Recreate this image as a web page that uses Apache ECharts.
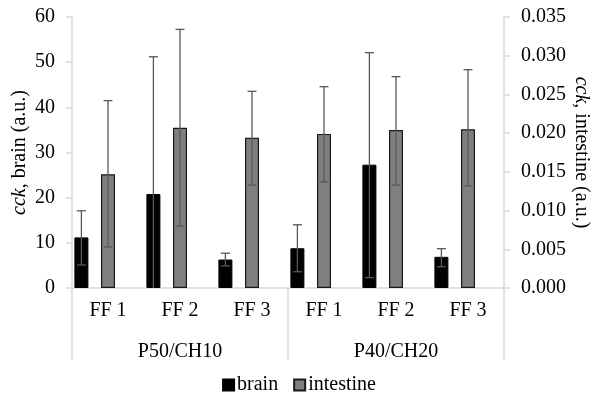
<!doctype html>
<html>
    <head>
        <meta charset="utf-8">
        <title>cck brain / intestine</title>
        <style>
            html, body { margin: 0; padding: 0; background: #fff; }
            #main { width: 598px; height: 403px; }
        </style>
    </head>
    <body>
        <div id="main"></div>
        <script src="https://cdn.jsdelivr.net/npm/echarts@6/dist/echarts.min.js"></script>
        <script>
            var categories = ['FF 1', 'FF 2', 'FF 3', 'FF 1', 'FF 2', 'FF 3'];
            var groups = ['P50/CH10', 'P40/CH20'];

            // brain, left axis
            var brain = [11.2, 20.8, 6.3, 8.8, 27.3, 6.9];
            var brainLow = [5.1, 0, 4.9, 3.6, 2.3, 4.7];
            var brainHigh = [17.1, 51.2, 7.7, 14.0, 52.1, 8.7];

            // intestine, right axis
            var intestine = [0.0147, 0.0207, 0.0194, 0.0199, 0.0204, 0.0205];
            var intestineLow = [0.0053, 0.0080, 0.0133, 0.0137, 0.0133, 0.0132];
            var intestineHigh = [0.0242, 0.0334, 0.0254, 0.0260, 0.0273, 0.0282];

            var leftTicks = { min: 0, max: 60, interval: 10 };
            var rightTicks = { min: 0, max: 0.035, interval: 0.005 };

            var FONT = '"Liberation Serif", "Times New Roman", serif';
            var FS = 20;
            var AXIS_GREY = '#d9d9d9';
            var BAR_W = 14;
            var GAP = 0.9;

            var chart = echarts.init(document.getElementById('main'), null, {
                devicePixelRatio: 1
            });

            function errorSeries(name, low, high, axisIdx, shift) {
                var data = low.map(function (l, i) { return [i, l, high[i]]; });
                return {
                    type: 'custom',
                    name: name,
                    yAxisIndex: axisIdx,
                    silent: true,
                    z: 5,
                    data: data,
                    renderItem: function (params, api) {
                        var x = api.value(0);
                        var lo = api.coord([x, api.value(1)]);
                        var hi = api.coord([x, api.value(2)]);
                        var cx = lo[0] + shift;
                        var cap = 4.5;
                        var st = { stroke: '#595959', lineWidth: 1.3 };
                        var kids = [
                            { type: 'line', shape: { x1: cx, y1: lo[1], x2: cx, y2: hi[1] }, style: st },
                            { type: 'line', shape: { x1: cx - cap, y1: hi[1], x2: cx + cap, y2: hi[1] }, style: st }
                        ];
                        if (api.value(1) > 0) {
                            kids.push({ type: 'line', shape: { x1: cx - cap, y1: lo[1], x2: cx + cap, y2: lo[1] }, style: st });
                        }
                        return { type: 'group', children: kids };
                    }
                };
            }

            var shift = -(BAR_W + BAR_W * GAP);

            var nameStyle = {
                fontFamily: FONT, fontSize: FS, color: '#000',
                rich: { i: { fontFamily: FONT, fontSize: FS, fontStyle: 'italic', color: '#000' } }
            };

            chart.setOption({
                backgroundColor: '#fff',
                animation: false,
                textStyle: { fontFamily: FONT },
                grid: { left: 72, right: 94, top: 17, bottom: 115, containLabel: false, outerBoundsMode: 'none' },
                legend: {
                    data: ['brain', 'intestine'],
                    bottom: 3,
                    left: 'center',
                    icon: 'rect',
                    itemWidth: 11,
                    itemHeight: 11,
                    itemGap: 15,
                    textStyle: { fontFamily: FONT, fontSize: FS, color: '#000', padding: [0, 0, 0, -2] }
                },
                xAxis: [{
                    type: 'category',
                    data: categories,
                    position: 'bottom',
                    axisLine: { lineStyle: { color: AXIS_GREY, width: 1.5 } },
                    axisTick: { show: false },
                    axisLabel: { fontFamily: FONT, fontSize: FS, color: '#000', margin: 13, interval: 0 }
                }, {
                    type: 'category',
                    data: groups,
                    position: 'bottom',
                    axisLine: { show: false },
                    axisTick: { show: true, length: 72, lineStyle: { color: AXIS_GREY, width: 1.5 } },
                    axisLabel: { fontFamily: FONT, fontSize: FS, color: '#000', margin: 54 },
                    splitLine: { show: false }
                }],
                yAxis: [{
                    type: 'value',
                    min: leftTicks.min,
                    max: leftTicks.max,
                    interval: leftTicks.interval,
                    name: '{i|cck}, brain (a.u.)',
                    nameLocation: 'middle',
                    nameGap: 42,
                    nameMoveOverlap: false,
                    nameTextStyle: nameStyle,
                    axisLine: { show: true, lineStyle: { color: AXIS_GREY, width: 1.5 } },
                    axisTick: { show: true, length: 6, lineStyle: { color: AXIS_GREY, width: 1.5 } },
                    axisLabel: { fontFamily: FONT, fontSize: FS, color: '#000', margin: 17 },
                    splitLine: { show: false }
                }, {
                    type: 'value',
                    position: 'right',
                    min: rightTicks.min,
                    max: rightTicks.max,
                    interval: rightTicks.interval,
                    name: '{i|cck}, intestine (a.u.)',
                    nameLocation: 'middle',
                    nameGap: 67,
                    nameRotate: -90,
                    nameMoveOverlap: false,
                    nameTextStyle: nameStyle,
                    axisLine: { show: true, lineStyle: { color: AXIS_GREY, width: 1.5 } },
                    axisTick: { show: true, length: 6, lineStyle: { color: AXIS_GREY, width: 1.5 } },
                    axisLabel: {
                        fontFamily: FONT, fontSize: FS, color: '#000', margin: 17,
                        formatter: function (v) { return v.toFixed(3); }
                    },
                    splitLine: { show: false }
                }],
                series: [{
                    name: 'brain',
                    type: 'bar',
                    yAxisIndex: 0,
                    barWidth: BAR_W,
                    barGap: (GAP * 100) + '%',
                    itemStyle: { color: '#000', borderColor: '#000', borderWidth: 1 },
                    data: brain
                }, {
                    name: 'intestine',
                    type: 'bar',
                    yAxisIndex: 1,
                    barWidth: BAR_W,
                    barGap: (GAP * 100) + '%',
                    itemStyle: { color: '#7f7f7f', borderColor: '#1a1a1a', borderWidth: 1.2 },
                    data: intestine
                }, {
                    name: 'pad',
                    type: 'bar',
                    yAxisIndex: 1,
                    barWidth: BAR_W,
                    barGap: (GAP * 100) + '%',
                    silent: true,
                    data: categories.map(function () { return '-'; })
                },
                errorSeries('brainErr', brainLow, brainHigh, 0, shift),
                errorSeries('intestineErr', intestineLow, intestineHigh, 1, 0)
                ]
            });

            window.onresize = chart.resize;
        </script>
    </body>
</html>
